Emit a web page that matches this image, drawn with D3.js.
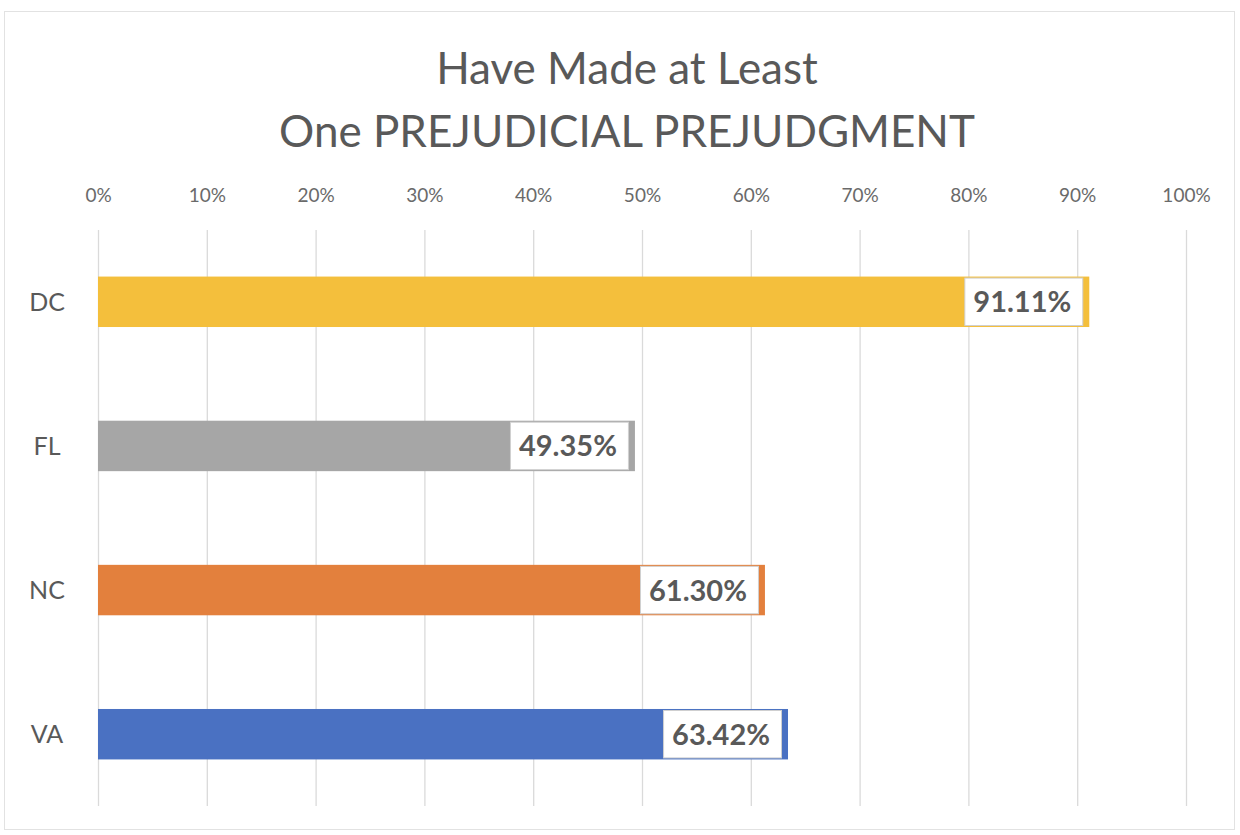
<!DOCTYPE html>
<html><head><meta charset="utf-8">
<script src="https://cdn.jsdelivr.net/npm/d3@7"></script>
<style>html,body{margin:0;padding:0;background:#fff;}svg{display:block;}</style>
</head><body>
<svg id="c" width="1240" height="835"></svg>
<script>
const categories = ["DC", "FL", "NC", "VA"];
const values = [91.11, 49.35, 61.30, 63.42];
const labels = ["91.11%", "49.35%", "61.30%", "63.42%"];
const colors = ["#F4BF3C", "#A6A6A6", "#E3803D", "#4A71C2"];
const tickValues = [0,10,20,30,40,50,60,70,80,90,100];
const titleLines = ["Have Made at Least", "One PREJUDICIAL PREJUDGMENT"];

const svg = d3.select("#c");
const font = "Lato, 'Open Sans', sans-serif";

svg.append("rect").attr("x",4.5).attr("y",11.5).attr("width",1230).attr("height",818)
  .attr("fill","#fff").attr("stroke","#e2e2e2");

const x = d3.scaleLinear().domain([0,100]).range([98,1186]);
const y = d3.scaleBand().domain(categories).range([229,807]).paddingInner(0.65).paddingOuter(0.33);

// gridlines
svg.append("g").selectAll("line").data(tickValues).join("line")
  .attr("x1",d=>x(d)+0.5).attr("x2",d=>x(d)+0.5).attr("y1",230).attr("y2",806)
  .attr("stroke","#dadada").attr("stroke-width",1.3);

// top axis labels
const ax = svg.append("g").attr("transform","translate(0,202)")
  .call(d3.axisTop(x).tickValues(tickValues).tickFormat(d=>d+"%").tickSize(0).tickPadding(0));
ax.select(".domain").remove();
ax.selectAll("text").attr("fill","#6a6a6a").style("font-family",font).style("font-size","19px");

// title
svg.append("g").selectAll("text").data(titleLines).join("text")
  .attr("x",627).attr("y",(d,i)=>84+i*63).attr("text-anchor","middle")
  .attr("fill","#595959").style("font-family",font).style("font-size","44px")
  .text(d=>d);

// category labels
svg.append("g").selectAll("text").data(categories).join("text")
  .attr("x",47).attr("y",d=>y(d)+y.bandwidth()/2).attr("dy","0.35em").attr("text-anchor","middle")
  .attr("fill","#595959").style("font-family",font).style("font-size","25px").text(d=>d);

// bars
svg.append("g").selectAll("rect").data(categories).join("rect")
  .attr("x",x(0)).attr("y",d=>y(d)).attr("height",y.bandwidth())
  .attr("width",(d,i)=>x(values[i])-x(0)).attr("fill",(d,i)=>colors[i]);

// data labels
const lg = svg.append("g").selectAll("g").data(categories).join("g");
lg.each(function(d,i){
  const g = d3.select(this);
  const t = g.append("text").attr("text-anchor","end")
    .attr("fill","#595959").style("font-family",font).style("font-weight","bold").style("font-size","29px")
    .text(labels[i]);
  const w = t.node().getComputedTextLength();
  const right = x(values[i]) - 7;
  const bw = w + 20;
  g.insert("rect","text").attr("x",right-bw+0.5).attr("y",y(d)+1.5).attr("width",bw).attr("height",y.bandwidth()-3)
    .attr("fill","#fff").attr("stroke","#d0d0d0");
  t.attr("x",right-11).attr("y",y(d)+y.bandwidth()/2).attr("dy","0.36em");
});
</script>
</body></html>
